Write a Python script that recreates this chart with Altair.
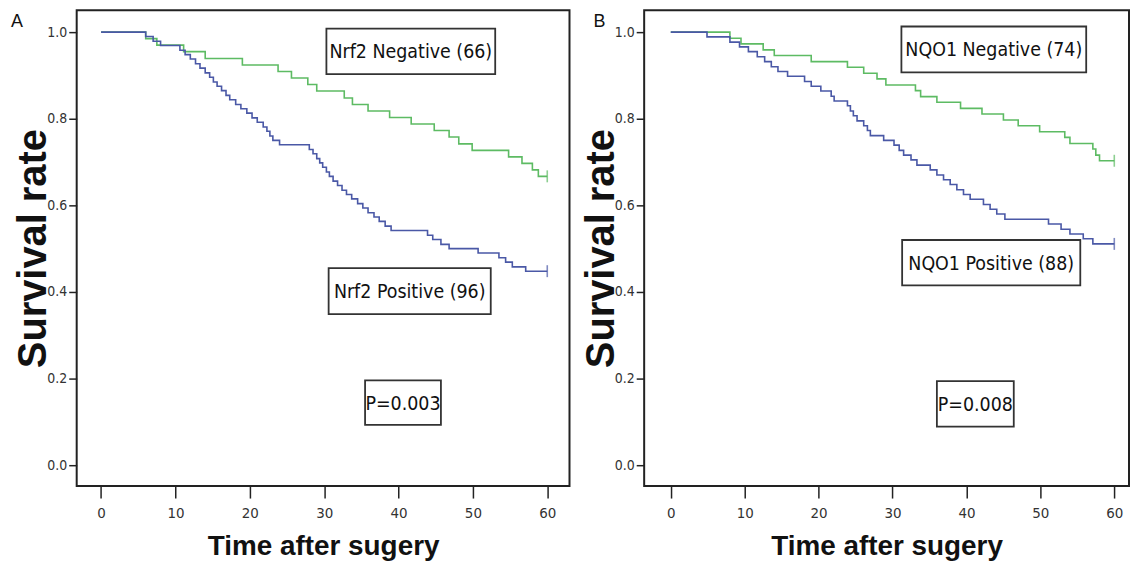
import altair as alt
import pandas as pd

# ---------------- data ----------------
X_TICKS = [0, 10, 20, 30, 40, 50, 60]
Y_TICKS = [0.0, 0.2, 0.4, 0.6, 0.8, 1.0]

# Panel A : Nrf2
A_NEG_NAME = "Nrf2 Negative (66)"
A_NEG_T = [0, 6.0, 7.5, 11.1, 14.0, 19.0, 23.8, 25.6, 27.8, 29.0, 32.7, 33.8, 35.9, 38.8,
           41.7, 44.8, 46.8, 48.1, 49.9, 54.8, 56.6, 58.0, 58.8, 60]
A_NEG_S = [1.0, 0.985, 0.970, 0.955, 0.939, 0.924, 0.909, 0.894, 0.879, 0.864, 0.848, 0.833,
           0.818, 0.803, 0.788, 0.773, 0.758, 0.742, 0.727, 0.712, 0.697, 0.682, 0.667, 0.667]
A_POS_NAME = "Nrf2 Positive (96)"
A_POS_T = [0, 6, 7, 8, 10.6, 11.3, 12.0, 12.7, 13.3, 14.0, 14.6, 15.1, 15.6, 16.2, 16.8, 17.3,
           18.1, 18.8, 19.6, 20.3, 21.0, 21.8, 22.3, 22.7, 23.1, 24.0, 28.0, 28.5, 29.0, 29.4,
           29.8, 30.3, 30.7, 31.2, 31.8, 32.4, 33.0, 33.7, 34.5, 35.2, 35.9, 36.7, 37.4, 38.2,
           39.0, 43.9, 44.6, 45.7, 46.8, 50.7, 53.5, 54.4, 55.3, 57.1, 60]
A_POS_S = [1.0, 0.990, 0.979, 0.969, 0.958, 0.948, 0.938, 0.927, 0.917, 0.906, 0.896, 0.885,
           0.875, 0.865, 0.854, 0.844, 0.833, 0.823, 0.813, 0.802, 0.792, 0.781, 0.771, 0.760,
           0.750, 0.740, 0.729, 0.719, 0.708, 0.698, 0.688, 0.677, 0.667, 0.656, 0.646, 0.635,
           0.625, 0.615, 0.604, 0.594, 0.583, 0.573, 0.563, 0.552, 0.542, 0.531, 0.521, 0.510,
           0.500, 0.490, 0.479, 0.469, 0.458, 0.448, 0.448]
A_P = "P=0.003"

# Panel B : NQO1
B_NEG_NAME = "NQO1 Negative (74)"
B_NEG_T = [0, 8.0, 9.5, 12.5, 14.0, 19.0, 23.9, 26.1, 27.9, 29.1, 33.1, 33.8, 36.0, 39.2,
           42.1, 45.0, 47.0, 49.9, 53.3, 54.0, 57.1, 57.5, 58.0, 60]
B_NEG_S = [1.0, 0.986, 0.973, 0.959, 0.946, 0.932, 0.919, 0.905, 0.892, 0.878, 0.865, 0.851,
           0.838, 0.824, 0.811, 0.797, 0.784, 0.770, 0.757, 0.743, 0.730, 0.716, 0.703, 0.703]
B_POS_NAME = "NQO1 Positive (88)"
B_POS_T = [0, 4.9, 8.0, 9.3, 10.5, 11.7, 12.7, 13.6, 14.5, 15.8, 18.1, 19.0, 20.3, 21.7, 22.1,
           23.9, 24.3, 24.7, 25.2, 26.1, 26.6, 27.0, 28.8, 30.2, 30.9, 31.5, 32.5, 33.3, 35.1,
           36.0, 36.9, 37.8, 38.7, 39.6, 40.5, 42.3, 43.2, 44.1, 45.2, 51.1, 52.8, 54.0, 55.8,
           57.1, 60]
B_POS_S = [1.0, 0.989, 0.977, 0.966, 0.955, 0.943, 0.932, 0.920, 0.909, 0.898, 0.886, 0.875,
           0.864, 0.852, 0.841, 0.830, 0.818, 0.807, 0.795, 0.784, 0.773, 0.761, 0.750, 0.739,
           0.727, 0.716, 0.705, 0.693, 0.682, 0.670, 0.659, 0.648, 0.636, 0.625, 0.614, 0.602,
           0.591, 0.580, 0.568, 0.557, 0.545, 0.534, 0.523, 0.511, 0.511]
B_P = "P=0.008"

# annotation boxes: (text, time-left, time-right, rate-bottom, rate-top)
A_BOXES = [(A_NEG_NAME, 30.3, 53.0, 0.903, 1.008),
           (A_POS_NAME, 30.6, 52.4, 0.349, 0.455),
           (A_P, 35.5, 45.7, 0.093, 0.196)]
B_BOXES = [(B_NEG_NAME, 31.2, 56.2, 0.907, 1.013),
           (B_POS_NAME, 31.3, 55.4, 0.415, 0.520),
           (B_P, 36.0, 46.4, 0.089, 0.194)]

# ---------------- styling ----------------
GREEN = "#5dbb63"
BLUE = "#4a58a6"
NARROW = "DejaVu Sans Condensed, Liberation Sans Narrow, sans-serif"
SANS = "Liberation Sans, Arial, sans-serif"
Y_DOM = [-0.0483, 1.0506]
HEIGHT = 478


def make_panel(letter, letter_x, neg_name, neg_t, neg_s, pos_name, pos_t, pos_s, boxes,
               xdom, width):
    rows = [{"t": t, "s": s, "g": neg_name} for t, s in zip(neg_t, neg_s)]
    rows += [{"t": t, "s": s, "g": pos_name} for t, s in zip(pos_t, pos_s)]
    df = pd.DataFrame(rows)
    ends = df.groupby("g").tail(1)

    xax = alt.Axis(values=X_TICKS, title="Time after sugery", grid=False, domain=False,
                   labelFont=NARROW, labelFontSize=15, labelColor="#333", labelPadding=8,
                   tickSize=12, tickColor="#222", tickWidth=1.5,
                   titleFont=SANS, titleFontSize=28, titleFontWeight="bold",
                   titleColor="#111", titleY=69, titleBaseline="alphabetic")
    yax = alt.Axis(values=Y_TICKS, format=".1f", title="Survival rate", grid=False, domain=False,
                   labelFont=NARROW, labelFontSize=14, labelColor="#333", labelPadding=2,
                   tickSize=8, tickColor="#222", tickWidth=1.5,
                   titleFont=SANS, titleFontSize=40, titleFontWeight="bold",
                   titleColor="#111", titleX=-31, titleBaseline="alphabetic")
    X = alt.X("t:Q", scale=alt.Scale(domain=xdom, nice=False, zero=False), axis=xax)
    Y = alt.Y("s:Q", scale=alt.Scale(domain=Y_DOM, nice=False, zero=False), axis=yax)
    C = alt.Color("g:N", scale=alt.Scale(domain=[neg_name, pos_name], range=[GREEN, BLUE]),
                  legend=None)

    lines = alt.Chart(df).mark_line(interpolate="step-after", strokeWidth=1.6).encode(
        x=X, y=Y, color=C)
    cens = alt.Chart(ends).mark_tick(orient="vertical", size=12, thickness=1.6).encode(
        x=X, y=Y, color=C)

    bdf = pd.DataFrame([{"lab": b[0], "t": b[1], "t2": b[2], "s": b[3], "s2": b[4]} for b in boxes])
    tdf = pd.DataFrame([{"lab": b[0], "t": (b[1] + b[2]) / 2, "s": (b[3] + b[4]) / 2} for b in boxes])
    rects = alt.Chart(bdf).mark_rect(fill="white", stroke="#333", strokeWidth=1.8).encode(
        x=X, x2="t2:Q", y=Y, y2="s2:Q")
    texts = alt.Chart(tdf).mark_text(font=NARROW, fontSize=19.5, color="#111",
                                     baseline="middle", align="center", dy=1).encode(
        x=X, y=Y, text="lab:N")
    let = alt.Chart(pd.DataFrame({"lab": [letter]})).mark_text(
        font=SANS, fontSize=18, color="#111", x=letter_x, y=12, align="center",
        baseline="middle").encode(text="lab:N")

    return alt.layer(lines, cens, rects, texts, let).properties(width=width, height=HEIGHT)


panel_a = make_panel("A", -60, A_NEG_NAME, A_NEG_T, A_NEG_S, A_POS_NAME, A_POS_T, A_POS_S,
                     A_BOXES, [-3.28, 62.99], 495)
panel_b = make_panel("B", -45, B_NEG_NAME, B_NEG_T, B_NEG_S, B_POS_NAME, B_POS_T, B_POS_S,
                     B_BOXES, [-3.6, 61.99], 487)

chart = alt.hconcat(panel_a, panel_b, spacing=10).properties(
    padding={"left": 1, "top": 0, "right": 0, "bottom": 0},
    background="white",
).configure_view(stroke="#222", strokeWidth=2, fill="#f0f0f0")

chart.save("out.html", embed_options={"renderer": "svg", "actions": False})
